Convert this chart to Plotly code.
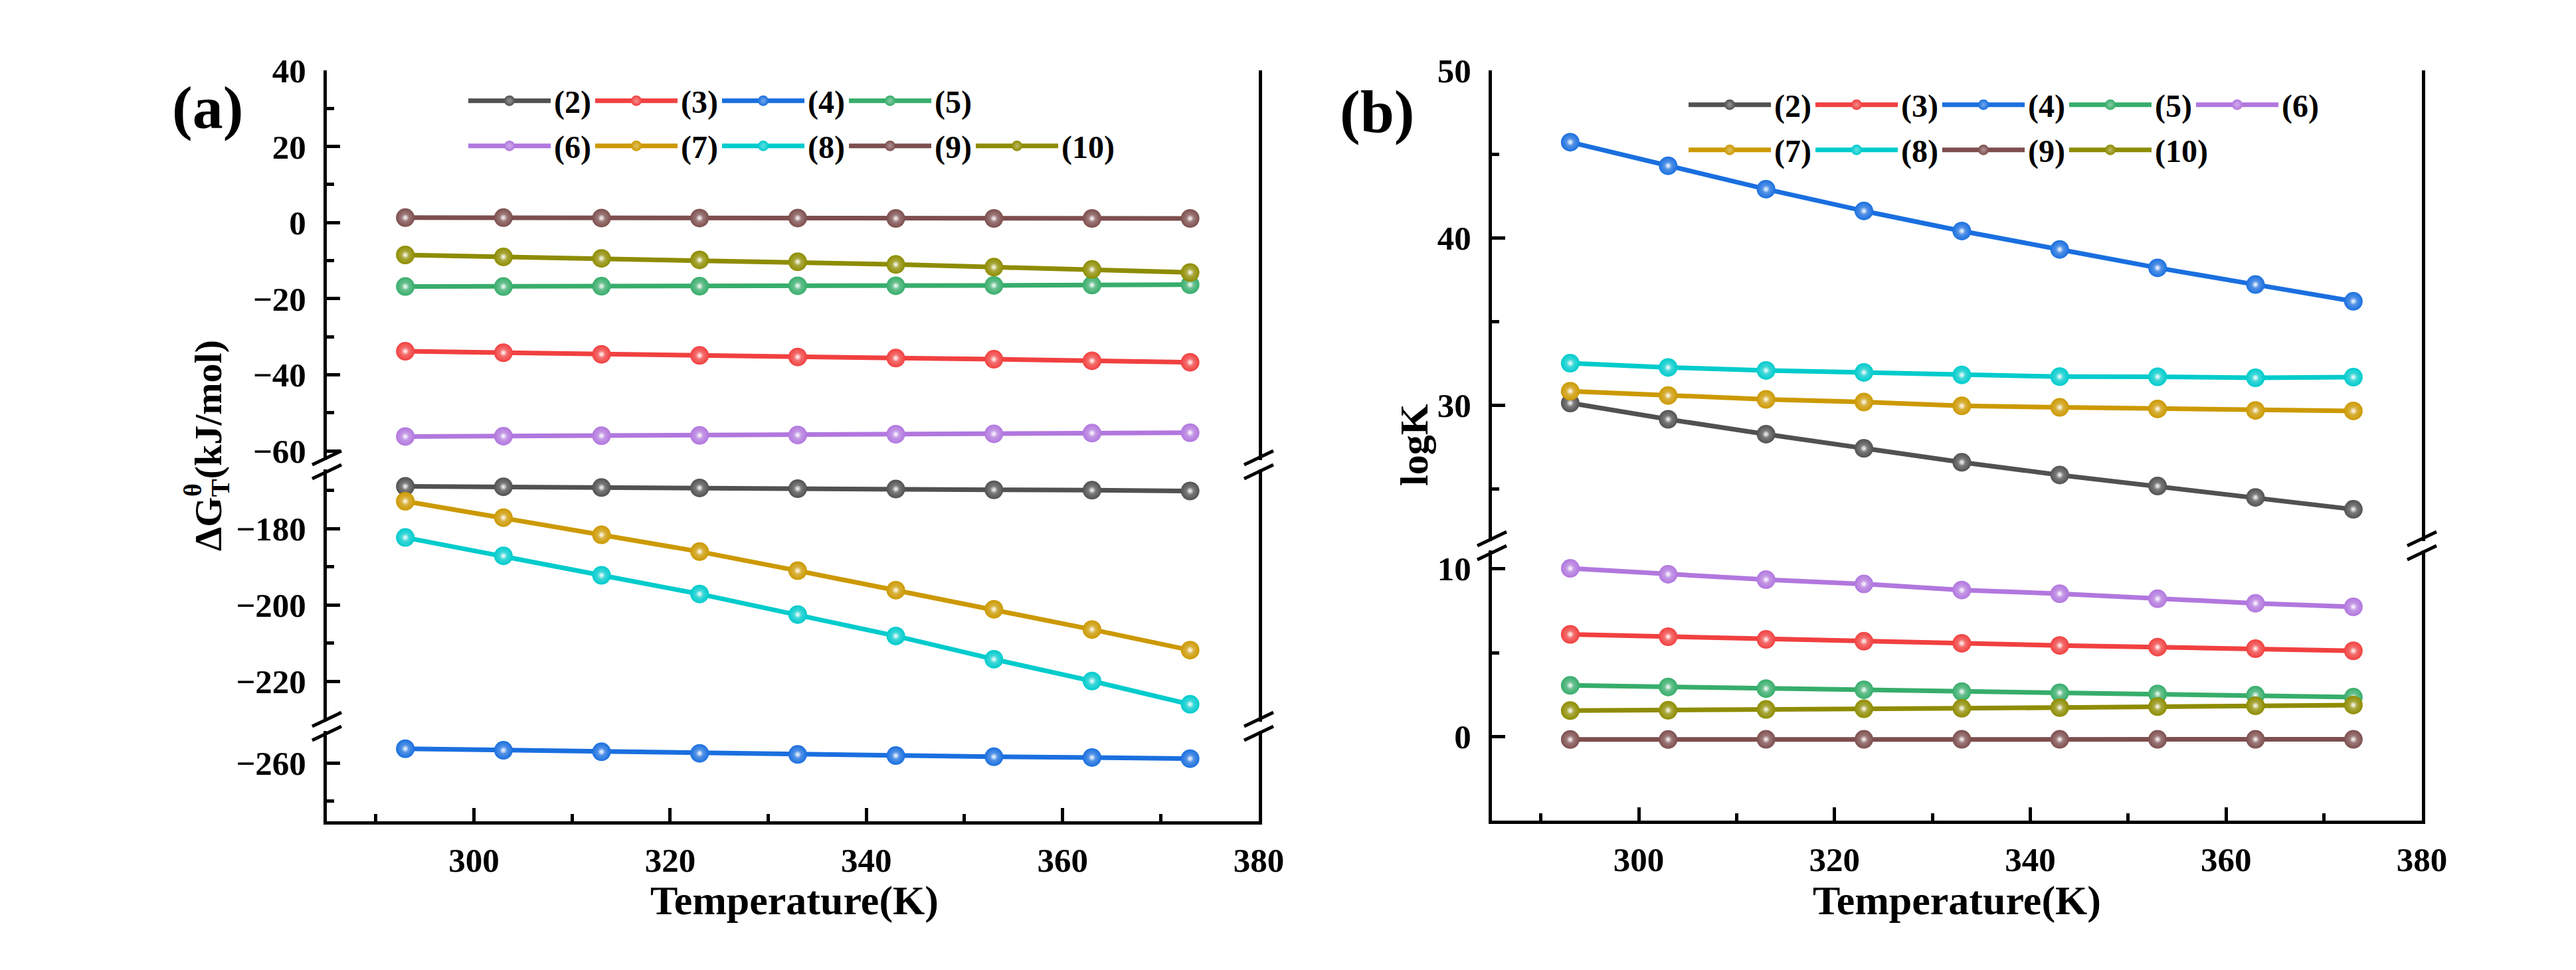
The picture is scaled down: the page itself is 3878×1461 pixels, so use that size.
import plotly.graph_objects as go

W, H = 3878, 1461

# ---------------- data ----------------
temperature = [293, 303, 313, 323, 333, 343, 353, 363, 373]
labels = ["(2)", "(3)", "(4)", "(5)", "(6)", "(7)", "(8)", "(9)", "(10)"]
colors = ["#515151", "#F14040", "#1A6FDF", "#37AD6B", "#B177DE",
          "#CC9900", "#00CBCC", "#7D4E4E", "#8E8C00"]

# panel (a): Gibbs free energy, kJ/mol
dG_2 = [-168.9, -169.0, -169.2, -169.3, -169.5, -169.6, -169.8, -169.9, -170.1]
dG_3 = [-33.8, -34.2, -34.6, -34.9, -35.3, -35.6, -35.9, -36.3, -36.7]
dG_4 = [-256.3, -256.7, -257.1, -257.5, -257.8, -258.1, -258.4, -258.6, -258.9]
dG_5 = [-16.8, -16.8, -16.7, -16.7, -16.6, -16.6, -16.5, -16.4, -16.3]
dG_6 = [-56.2, -56.1, -56.0, -55.9, -55.8, -55.6, -55.5, -55.3, -55.2]
dG_7 = [-172.8, -177.1, -181.6, -186.0, -191.0, -196.1, -201.1, -206.4, -211.8]
dG_8 = [-182.3, -187.1, -192.2, -197.1, -202.5, -208.1, -214.2, -219.9, -226.0]
dG_9 = [1.3, 1.3, 1.2, 1.2, 1.2, 1.1, 1.1, 1.1, 1.1]
dG_10 = [-8.5, -9.0, -9.4, -9.8, -10.3, -11.0, -11.7, -12.3, -13.1]

# panel (b): logK
logK_2 = [30.12, 29.15, 28.26, 27.41, 26.58, 25.82, 25.16, 24.48, 23.77]
logK_3 = [6.09, 5.95, 5.79, 5.68, 5.56, 5.43, 5.33, 5.24, 5.11]
logK_4 = [45.71, 44.30, 42.90, 41.60, 40.40, 39.30, 38.20, 37.20, 36.20]
logK_5 = [3.05, 2.96, 2.86, 2.79, 2.68, 2.61, 2.54, 2.47, 2.35]
logK_6 = [10.02, 9.67, 9.35, 9.09, 8.73, 8.51, 8.21, 7.94, 7.73]
logK_7 = [30.83, 30.57, 30.34, 30.18, 29.95, 29.86, 29.77, 29.68, 29.65]
logK_8 = [32.50, 32.25, 32.07, 31.95, 31.80, 31.70, 31.69, 31.63, 31.67]
logK_9 = [-0.17, -0.17, -0.16, -0.16, -0.16, -0.16, -0.16, -0.16, -0.16]
logK_10 = [1.55, 1.57, 1.62, 1.66, 1.69, 1.73, 1.79, 1.84, 1.88]

dG_series = [dG_2, dG_3, dG_4, dG_5, dG_6, dG_7, dG_8, dG_9, dG_10]
logK_series = [logK_2, logK_3, logK_4, logK_5, logK_6, logK_7, logK_8, logK_9, logK_10]

# which broken-axis segment each series lives in
dG_axis = ["y2", "y", "y3", "y", "y", "y2", "y2", "y", "y"]
logK_axis = ["y4", "y5", "y4", "y5", "y5", "y4", "y4", "y5", "y5"]
legend_a = ["legend"] * 4 + ["legend2"] * 5
legend_b = ["legend3"] * 5 + ["legend4"] * 4

x_ticks = [300, 320, 340, 360, 380]
x_minor = [290, 310, 330, 350, 370]

FONT = "Liberation Serif"


def px_x(p):
    return p / W


def px_y(p):
    return 1 - p / H


def tint(hex_color, f):
    h = hex_color.lstrip("#")
    r, g, b = (int(h[i:i + 2], 16) for i in (0, 2, 4))
    r, g, b = (int(c + (255 - c) * f) for c in (r, g, b))
    return f"rgb({r},{g},{b})"


fig = go.Figure()

ENTRY_W = 52
for i in range(9):
    c = colors[i]
    common = dict(
        mode="lines+markers",
        line=dict(color=c, width=7),
        marker=dict(size=28, color=c, line=dict(width=0),
                    gradient=dict(type="radial", color=tint(c, 0.4))),
        name=labels[i],
    )
    highlight = dict(
        mode="markers", showlegend=False, hoverinfo="skip",
        marker=dict(size=11, color="rgba(255,255,255,0)", line=dict(width=0),
                    gradient=dict(type="radial", color="rgba(255,255,255,0.95)")),
    )
    wa = 95 if legend_a[i] != (legend_a[i + 1] if i < 8 else None) else ENTRY_W
    wb = 95 if legend_b[i] != (legend_b[i + 1] if i < 8 else None) else ENTRY_W
    fig.add_trace(go.Scatter(x=temperature, y=dG_series[i], xaxis="x", yaxis=dG_axis[i],
                             legend=legend_a[i], legendwidth=wa, **common))
    fig.add_trace(go.Scatter(x=temperature, y=dG_series[i], xaxis="x", yaxis=dG_axis[i],
                             **highlight))
    fig.add_trace(go.Scatter(x=temperature, y=logK_series[i], xaxis="x2", yaxis=logK_axis[i],
                             legend=legend_b[i], legendwidth=wb, **common))
    fig.add_trace(go.Scatter(x=temperature, y=logK_series[i], xaxis="x2", yaxis=logK_axis[i],
                             **highlight))

tickfont = dict(family=FONT, size=51, color="black", weight="bold")
LW = 5


def xax(domain, anchor):
    return dict(domain=domain, range=[285, 380], anchor=anchor,
                tickmode="array", tickvals=x_ticks, ticks="inside", ticklen=20,
                tickwidth=LW, tickcolor="black", showline=True, linewidth=LW,
                linecolor="black", mirror=False, showgrid=False, zeroline=False,
                tickfont=tickfont, ticklabelstandoff=10,
                minor=dict(tickmode="array", tickvals=x_minor, ticks="inside",
                           ticklen=11, tickwidth=LW, tickcolor="black", showgrid=False))


def topax(match, anchor):
    return dict(matches=match, overlaying=match, anchor=anchor, side="top",
                showline=True, linewidth=LW, linecolor="black", ticks="",
                showticklabels=False, showgrid=False, zeroline=False)


def yax(domain_px, rng, anchor, major, minor):
    return dict(domain=[px_y(domain_px[1]), px_y(domain_px[0])], range=rng, anchor=anchor,
                tickmode="array", tickvals=major, ticks="inside", ticklen=20,
                tickwidth=LW, tickcolor="black", showline=True, linewidth=LW,
                linecolor="black", mirror=True, showgrid=False, zeroline=False,
                tickfont=tickfont, ticklabelstandoff=16,
                minor=dict(tickmode="array", tickvals=minor, ticks="inside",
                           ticklen=11, tickwidth=LW, tickcolor="black", showgrid=False))


xa_dom = [px_x(492), px_x(1895)]
xb_dom = [px_x(2246), px_x(3646)]

layout = dict(
    width=W, height=H, margin=dict(l=0, r=0, t=0, b=0, pad=0, autoexpand=False),
    paper_bgcolor="white", plot_bgcolor="white",
    xaxis=xax(xa_dom, "y3"),
    xaxis2=xax(xb_dom, "y5"),
    xaxis3=topax("x", "y"),
    xaxis4=topax("x2", "y4"),
    yaxis=yax((106, 693), [-62.4, 40], "x", [40, 20, 0, -20, -40, -60], [30, 10, -10, -30, -50]),
    yaxis2=yax((707, 1087), [-230.56, -164.45], "x", [-180, -200, -220], [-170, -190, -210]),
    yaxis3=yax((1101, 1237), [-275.31, -251.65], "x", [-260], [-270]),
    yaxis4=yax((106, 815), [21.87, 50], "x2", [50, 40, 30], [45, 35, 25]),
    yaxis5=yax((829, 1236), [-5, 11.09], "x2", [10, 0], [5]),
    showlegend=True,
)

legfont = dict(family=FONT, size=48, color="black", weight="bold")


def leg(xp, yp):
    return dict(orientation="h", x=px_x(xp), y=px_y(yp), xanchor="left", yanchor="middle",
                bgcolor="rgba(0,0,0,0)", borderwidth=0, font=legfont,
                itemwidth=124, entrywidthmode="pixels", traceorder="normal")


layout["legend"] = leg(700, 152)
layout["legend2"] = leg(700, 220)
layout["legend3"] = leg(2537, 158)
layout["legend4"] = leg(2537, 226)

fig.update_layout(**layout)


def ann_text(text, xp, yp, size, angle=0):
    return dict(text=text, x=px_x(xp), y=px_y(yp), xref="paper", yref="paper",
                xanchor="center", yanchor="middle", textangle=angle,
                showarrow=False, font=dict(family=FONT, size=size, color="black"))


ann = [
    ann_text("<b>(a)</b>", 312, 162, 92),
    ann_text("<b>(b)</b>", 2073, 168, 92),
    ann_text("<b>Temperature(K)</b>", 1196, 1356, 62),
    ann_text("<b>Temperature(K)</b>", 2946, 1356, 62),
    ann_text("<b>ΔG<sub>T</sub>(kJ/mol)</b>", 318, 671, 58, -90),
    ann_text("<b>θ</b>", 290, 738, 38, -90),
    ann_text("<b>logK</b>", 2129, 670, 60, -90),
]
fig.update_layout(annotations=ann)

# axis-break marks
shapes = []
for xc, yc in [(492, 700), (1895, 700), (492, 1094), (1895, 1094), (2246, 822), (3646, 822)]:
    for dy in (0, 21):
        shapes.append(dict(type="line", xref="paper", yref="paper",
                           x0=px_x(xc - 22), y0=px_y(yc + dy),
                           x1=px_x(xc + 22), y1=px_y(yc + dy - 21),
                           line=dict(color="black", width=LW)))
fig.update_layout(shapes=shapes)

fig.write_html("out.html")
